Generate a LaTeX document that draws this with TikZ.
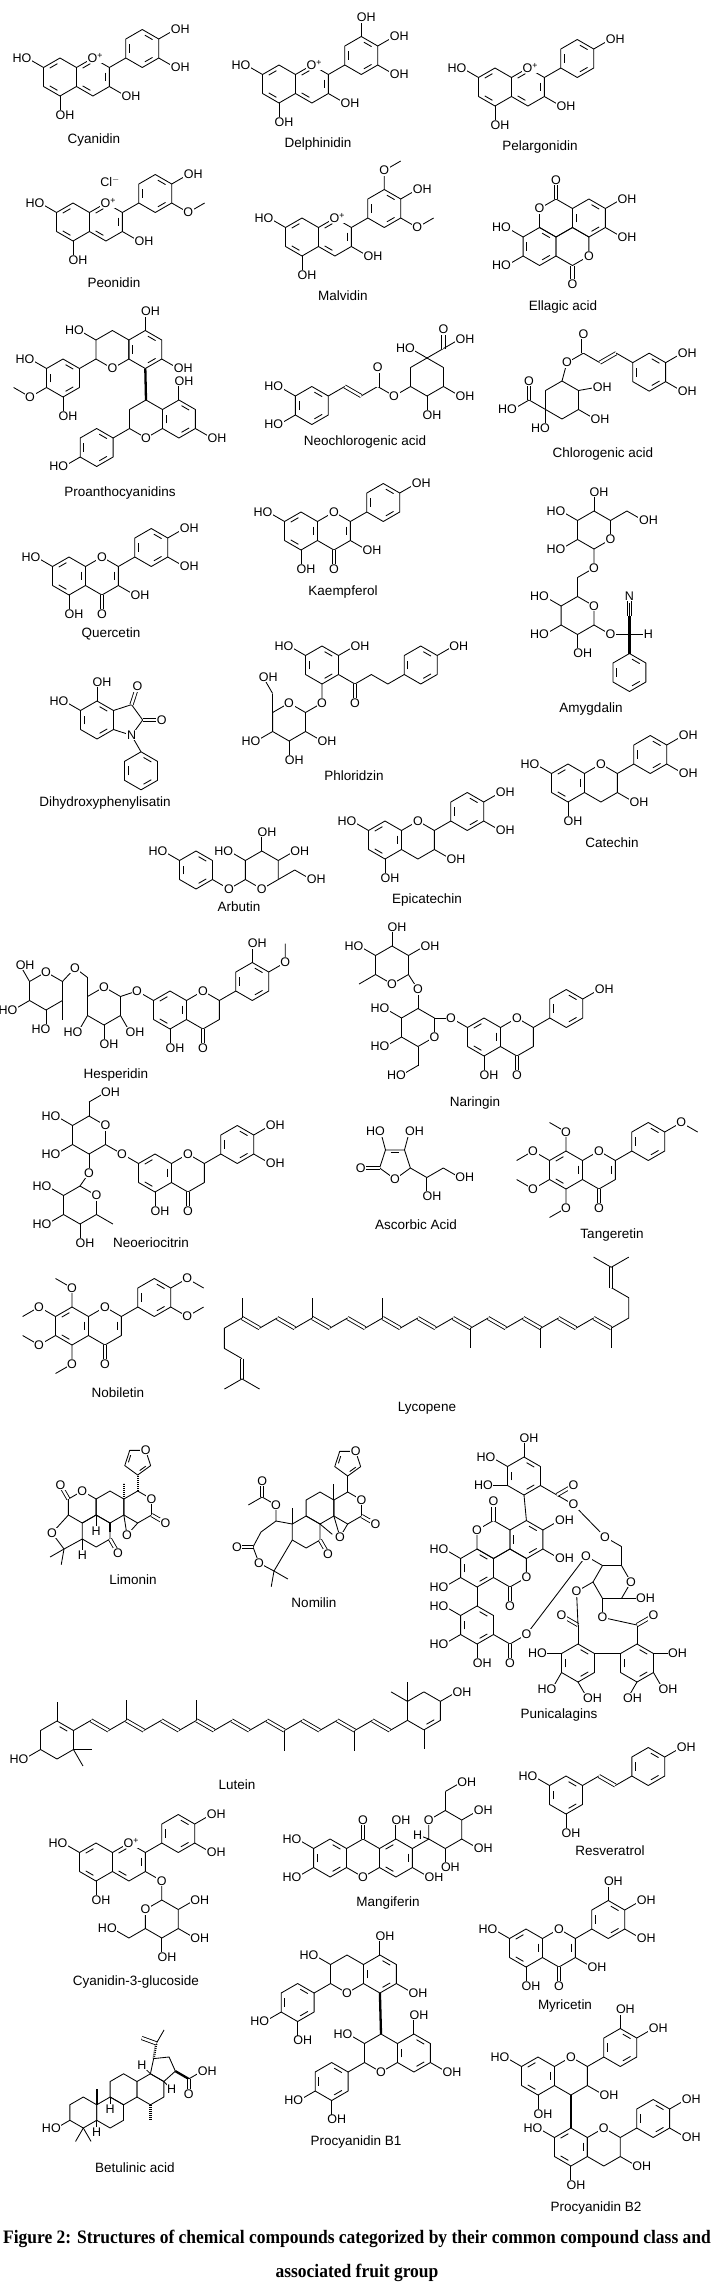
\documentclass[tikz,border=0pt]{standalone}
\usepackage{fontspec}
\setmainfont{Liberation Serif}
\setsansfont{Liberation Sans}
\usetikzlibrary{calc}

\newcounter{atm}
\def\bl{19}
% ring of six with corners #11..#16, centre #1c
\newcommand{\hexring}[3]{%
  \coordinate (#1c) at #2;
  \foreach \k in {1,...,6}
    {\coordinate (#1\k) at ($(#1c)+({#3+60*(\k-1)}:\bl)$);}
  \draw (#11)--(#12)--(#13)--(#14)--(#15)--(#16)--cycle;}
\newcommand{\pentring}[3]{%
  \coordinate (#1c) at #2;
  \foreach \k in {1,...,5}
    {\coordinate (#1\k) at ($(#1c)+({#3+72*(\k-1)}:{0.85065*\bl})$);}
  \draw (#11)--(#12)--(#13)--(#14)--(#15)--cycle;}
% inner line of a ring double bond
\newcommand{\inb}[3]{%
  \coordinate (ib1) at ($(#1#2)!.2!(#1#3)$);
  \coordinate (ib2) at ($(#1#3)!.2!(#1#2)$);
  \draw ($(ib1)!.22!(#1c)$) -- ($(ib2)!.22!(#1c)$);}
\newcommand{\sub}[4][atm]{\stepcounter{atm}%
  \draw (#2) -- ++(#3:\bl) node[#1] (a\arabic{atm}) {#4};}
\newcommand{\atomat}[3][atm]{\stepcounter{atm}\node[#1] (a\arabic{atm}) at (#2) {#3};}
\newcommand{\keto}[2]{\stepcounter{atm}\draw[dbl] (#1) -- ++(#2:\bl) node[atm] (a\arabic{atm}) {O};}
\newcommand{\ome}[3]{\stepcounter{atm}\draw (#1) -- ++(#2:\bl) node[atm] (a\arabic{atm}) {O} -- ++(#3:\bl);}
\newcommand{\me}[2]{\draw (#1) -- ++(#2:\bl);}
% flavonoid skeletons
\newcommand{\chrom}[1]{\hexring{A}{#1}{270}\hexring{C}{($(Ac)+(32.909,0)$)}{270}}
\newcommand{\ringB}{\hexring{B}{($(Ac)+(82.27,-28.5)$)}{270}%
  \inb{B}{1}{2}\inb{B}{3}{4}\inb{B}{5}{6}\draw (C2)--(B5);}
\newcommand{\antho}{\inb{A}{4}{5}\inb{A}{6}{1}\inb{C}{6}{1}\inb{C}{2}{3}\inb{C}{4}{5}%
  \atomat[atm,xshift=2.5pt]{C1}{O\textsuperscript{+}}}
\newcommand{\flavonol}{\inb{A}{2}{3}\inb{A}{4}{5}\inb{A}{6}{1}\inb{C}{2}{3}\atomat{C1}{O}\keto{C4}{90}}
\newcommand{\flavanone}{\inb{A}{2}{3}\inb{A}{4}{5}\inb{A}{6}{1}\atomat{C1}{O}\keto{C4}{90}}
\newcommand{\flavan}{\inb{A}{2}{3}\inb{A}{4}{5}\inb{A}{6}{1}\atomat{C1}{O}}
\newcommand{\arom}[1]{\inb{#1}{1}{2}\inb{#1}{3}{4}\inb{#1}{5}{6}}

\tikzset{
  atm/.style={fill=white, inner sep=0.6pt, font=\sffamily\fontsize{12.5}{13}\selectfont},
  ohl/.style={atm, anchor=west, xshift=-5.3pt},
  hol/.style={atm, anchor=east, xshift=5.3pt},
  cname/.style={font=\sffamily\fontsize{13.5}{15}\selectfont, inner sep=1pt},
  capt/.style={font=\rmfamily\bfseries\fontsize{19}{22}\selectfont, inner sep=0pt},
  dbl/.style={double, double distance=2.4pt},
  wdg/.style={line width=2.3pt},
  hsh/.style={line width=2.3pt, dash pattern=on 0.9pt off 1.1pt},
}

\begin{document}
\begin{tikzpicture}[x=1pt, y=-1pt, line width=0.85pt, line join=round]
\fill[white] (0,0) rectangle (711,2292);
\useasboundingbox (0,0) rectangle (711,2292);

% Cyanidin
\chrom{(60,77)}\antho\ringB
\sub[hol]{A6}{210}{HO}\sub[ohl]{A4}{90}{OH}\sub[ohl]{C3}{30}{OH}
\sub[ohl]{B2}{330}{OH}\sub[ohl]{B3}{30}{OH}
\node[cname] (cyanidin) at (94,140) {Cyanidin};

% Delphinidin
\chrom{(279,84)}\antho\ringB
\sub[hol]{A6}{210}{HO}\sub[ohl]{A4}{90}{OH}\sub[ohl]{C3}{30}{OH}
\sub[ohl]{B1}{270}{OH}\sub[ohl]{B2}{330}{OH}\sub[ohl]{B3}{30}{OH}
\node[cname] (delphinidin) at (318,144) {Delphinidin};

% Pelargonidin
\chrom{(495,87)}\antho\ringB
\sub[hol]{A6}{210}{HO}\sub[ohl]{A4}{90}{OH}\sub[ohl]{C3}{30}{OH}
\sub[ohl]{B2}{330}{OH}
\node[cname] (pelargonidin) at (540,147) {Pelargonidin};

% Peonidin
\chrom{(73,222)}\antho\ringB
\sub[hol]{A6}{210}{HO}\sub[ohl]{A4}{90}{OH}\sub[ohl]{C3}{30}{OH}
\sub[ohl]{B2}{330}{OH}\ome{B3}{30}{330}
\node[atm] (chloride) at (110,182) {Cl$^-$};
\node[cname] (peonidin) at (114,283) {Peonidin};

% Malvidin
\chrom{(302,237)}\antho\ringB
\sub[hol]{A6}{210}{HO}\sub[ohl]{A4}{90}{OH}\sub[ohl]{C3}{30}{OH}
\ome{B1}{270}{330}\sub[ohl]{B2}{330}{OH}\ome{B3}{30}{330}
\node[cname] (malvidin) at (343,296) {Malvidin};

% Ellagic acid
\hexring{P}{(556,218)}{270}\hexring{Q}{(588.91,218)}{270}
\hexring{R}{(539.55,246.5)}{270}\hexring{S}{(572.45,246.5)}{270}
\arom{Q}\arom{R}
\keto{P1}{270}\atomat{P6}{O}\atomat{S3}{O}\keto{S4}{90}
\sub[ohl]{Q2}{330}{OH}\sub[ohl]{Q3}{30}{OH}\sub[hol]{R6}{210}{HO}\sub[hol]{R5}{150}{HO}
\node[cname] (ellagic) at (563,307) {Ellagic acid};

% Proanthocyanidins
\hexring{A}{(145.3,349.5)}{270}\hexring{C}{(112.4,349.5)}{270}\arom{A}
\atomat{C4}{O}
\sub[ohl]{A1}{270}{OH}\sub[ohl]{A3}{30}{OH}\sub[hol]{C6}{210}{HO}
\hexring{B}{(63,378)}{270}\arom{B}\draw (C5)--(B2);
\sub[hol]{B6}{210}{HO}\ome{B5}{150}{210}\sub[ohl]{B4}{90}{OH}
\hexring{D}{(146,419)}{270}\hexring{E}{(178.91,419)}{270}\arom{E}
\draw[wdg] (A4)--(D1);
\atomat{D4}{O}
\sub[ohl]{E1}{270}{OH}\sub[ohl]{E3}{30}{OH}
\hexring{F}{(96.65,447.5)}{270}\arom{F}\draw (D5)--(F2);
\sub[hol]{F5}{150}{HO}
\node[cname] (proantho) at (120,493) {Proanthocyanidins};

% Neochlorogenic acid
\hexring{Q}{(427,377)}{270}
\draw (Q5) -- ++(150:\bl) coordinate (ncO) -- ++(210:\bl) coordinate (ncC) -- ++(150:\bl) coordinate (ncV2);
\draw[dbl] (ncV2) -- ++(210:\bl) coordinate (ncV1);
\draw (ncV1) -- ++(150:\bl) coordinate (ncK2);
\hexring{K}{($(ncK2)+(150:\bl)$)}{270}\arom{K}
\keto{ncC}{270}\atomat{ncO}{O}
\sub[hol]{K6}{210}{HO}\sub[hol]{K5}{150}{HO}
\sub[hol]{Q1}{210}{HO}
\draw (Q1) -- ++(330:\bl) coordinate (ncA);
\keto{ncA}{270}\sub[ohl]{ncA}{330}{OH}
\sub[ohl]{Q3}{30}{OH}\sub[ohl]{Q4}{90}{OH}
\node[cname] (neochlorogenic) at (365,442) {Neochlorogenic acid};

% Chlorogenic acid
\hexring{Q}{(562,400)}{270}
\draw (Q5) -- ++(210:\bl) coordinate (cgA);
\keto{cgA}{270}\sub[hol]{cgA}{150}{HO}\sub[hol]{Q5}{90}{HO}
\draw (Q1) -- ++(285:\bl) coordinate (cgO) -- ++(330:\bl) coordinate (cgC) -- ++(30:\bl) coordinate (cgV1);
\draw[dbl] (cgV1) -- ++(330:\bl) coordinate (cgV2);
\draw (cgV2) -- ++(30:\bl) coordinate (cgK6);
\hexring{K}{($(cgK6)+(30:\bl)$)}{270}\arom{K}
\keto{cgC}{270}\atomat{cgO}{O}
\sub[ohl]{K2}{330}{OH}\sub[ohl]{K3}{30}{OH}
\sub[ohl]{Q2}{350}{OH}\sub[ohl]{Q3}{30}{OH}
\node[cname] (chlorogenic) at (603,454) {Chlorogenic acid};

% Quercetin
\chrom{(69,576)}\flavonol\ringB
\sub[hol]{A6}{210}{HO}\sub[ohl]{A4}{90}{OH}\sub[ohl]{C3}{30}{OH}
\sub[ohl]{B2}{330}{OH}\sub[ohl]{B3}{30}{OH}
\node[cname] (quercetin) at (111,634) {Quercetin};

% Kaempferol
\chrom{(301,531)}\flavonol\ringB
\sub[hol]{A6}{210}{HO}\sub[ohl]{A4}{90}{OH}\sub[ohl]{C3}{30}{OH}
\sub[ohl]{B2}{330}{OH}
\node[cname] (kaempferol) at (343,592) {Kaempferol};

% Amygdalin
\hexring{G}{(594,530)}{270}
\draw (G2) -- ++(330:\bl) coordinate (amC6);
\draw (G4) -- ++(90:\bl) coordinate (amO) -- ++(150:\bl) coordinate (amCH) -- ++(90:\bl) coordinate (amL1);
\hexring{L}{($(amL1)+(90:\bl)$)}{270}
\draw (L3) -- ++(30:\bl) coordinate (amO2) -- ++(0:\bl) coordinate (amC);
\draw[wdg] (amC) -- ++(270:\bl) coordinate (amCN);
\draw[dbl] (amCN) -- ++(270:\bl) coordinate (amN);
\draw (amCN) -- ($(amCN)+(270:13)$);
\atomat{amN}{N}
\draw[wdg] (amC) -- ++(90:\bl) coordinate (amP1);
\hexring{P}{($(amP1)+(90:\bl)$)}{270}\arom{P}
\sub{amC}{0}{H}
\atomat{G3}{O}\atomat{L2}{O}\atomat{amO}{O}\atomat{amO2}{O}
\sub[ohl]{G1}{270}{OH}\sub[ohl]{amC6}{30}{OH}\sub[hol]{G6}{210}{HO}\sub[hol]{G5}{150}{HO}
\sub[hol]{L6}{210}{HO}\sub[hol]{L5}{150}{HO}\sub[ohl]{L4}{90}{OH}
\node[cname] (amygdalin) at (591,709) {Amygdalin};

% Phloridzin
\hexring{A}{(322,665)}{270}\arom{A}
\sub[hol]{A6}{210}{HO}\sub[ohl]{A2}{330}{OH}
\draw (A3) -- ++(30:\bl) coordinate (phC) -- ++(330:\bl) -- ++(30:\bl) -- ++(330:\bl) coordinate (phB5);
\keto{phC}{90}
\hexring{B}{($(phB5)+(330:\bl)$)}{270}\arom{B}
\sub[ohl]{B2}{330}{OH}
\draw (A4) -- ++(90:\bl) coordinate (phO) -- ++(150:\bl) coordinate (phG2);
\hexring{G}{($(phG2)+(150:\bl)$)}{270}
\draw (G6) -- ++(270:\bl) coordinate (phCH);
\atomat{phO}{O}\atomat{G1}{O}
\sub[ohl]{phCH}{240}{OH}\sub[ohl]{G3}{30}{OH}\sub[ohl]{G4}{90}{OH}\sub[hol]{G5}{150}{HO}
\node[cname] (phloridzin) at (354,776) {Phloridzin};

% Dihydroxyphenylisatin
\hexring{R}{(97,720)}{270}\arom{R}
\sub[ohl]{R1}{270}{OH}\sub[hol]{R6}{210}{HO}
\pentring{N}{(126.53,720)}{216}
\keto{N2}{288}\keto{N3}{0}
\draw (N4) -- ++(60:\bl) coordinate (isP1);
\hexring{P}{($(isP1)+(90:\bl)$)}{270}\arom{P}
\atomat{N4}{N}
\node[cname] (isatin) at (105,803) {Dihydroxyphenylisatin};

% Catechin
\chrom{(568,783)}\flavan\ringB
\sub[hol]{A6}{210}{HO}\sub[ohl]{A4}{90}{OH}\sub[ohl]{C3}{30}{OH}
\sub[ohl]{B2}{330}{OH}\sub[ohl]{B3}{30}{OH}
\node[cname] (catechin) at (612,843) {Catechin};

% Epicatechin
\chrom{(385,840)}\flavan\ringB
\sub[hol]{A6}{210}{HO}\sub[ohl]{A4}{90}{OH}\sub[ohl]{C3}{30}{OH}
\sub[ohl]{B2}{330}{OH}\sub[ohl]{B3}{30}{OH}
\node[cname] (epicatechin) at (427,900) {Epicatechin};

% Arbutin
\hexring{R}{(196,870)}{270}\arom{R}
\sub[hol]{R6}{210}{HO}
\draw (R3) -- ++(30:\bl) coordinate (arO) -- ++(330:\bl) coordinate (arG5);
\hexring{G}{($(arG5)+(330:\bl)$)}{270}
\draw (G3) -- ++(330:\bl) coordinate (arCH);
\atomat{arO}{O}\atomat{G4}{O}
\sub[ohl]{arCH}{30}{OH}\sub[ohl]{G2}{330}{OH}\sub[ohl]{G1}{270}{OH}\sub[hol]{G6}{210}{HO}
\node[cname] (arbutin) at (239,907) {Arbutin};

% Hesperidin
\chrom{(170,1010)}\flavanone\ringB
\sub[ohl]{A4}{90}{OH}\sub[ohl]{B1}{270}{OH}\ome{B2}{330}{270}
\draw (A6) -- ++(210:\bl) coordinate (hsO1);
\hexring{G}{(104,1006)}{270}
\draw (hsO1) -- (G2);
\draw (G6) -- ++(270:\bl) coordinate (hsCH) -- (75,968) coordinate (hsO2);
\hexring{H}{(46,991)}{270}
\draw (hsO2) -- (H2);
\atomat{hsO1}{O}\atomat{G1}{O}\atomat{hsO2}{O}\atomat{H1}{O}
\sub[ohl]{G3}{60}{OH}\sub[ohl]{G4}{90}{OH}\sub[hol]{G5}{120}{HO}
\sub[ohl]{H6}{240}{OH}\sub[hol]{H5}{150}{HO}\sub[hol]{H4}{90}{HO}\me{H3}{90}
\node[cname] (hesperidin) at (116,1075) {Hesperidin};

% Naringin
\chrom{(484,1037)}\flavanone\ringB
\sub[ohl]{A4}{90}{OH}\sub[ohl]{B2}{330}{OH}
\draw (A6) -- ++(210:\bl) coordinate (nrO1);
\hexring{G}{(418,1027.5)}{270}
\draw (nrO1) -- (G2);
\draw (G4) -- ++(90:\bl) coordinate (nrCH);
\draw (G1) -- ++(270:\bl) coordinate (nrO2);
\hexring{H}{(392,965)}{270}
\draw (nrO2) -- (H3);
\atomat{nrO1}{O}\atomat{G3}{O}\atomat{nrO2}{O}\atomat{H4}{O}
\sub[hol]{nrCH}{150}{HO}\sub[hol]{G5}{150}{HO}\sub[hol]{G6}{210}{HO}
\me{H5}{150}\sub[hol]{H6}{210}{HO}\sub[ohl]{H1}{270}{OH}\sub[ohl]{H2}{330}{OH}
\node[cname] (naringin) at (475,1103) {Naringin};

% Neoeriocitrin
\chrom{(155,1173)}\flavanone\ringB
\sub[ohl]{A4}{90}{OH}\sub[ohl]{B2}{330}{OH}\sub[ohl]{B3}{30}{OH}
\draw (A6) -- ++(210:\bl) coordinate (neO1);
\hexring{G}{(89,1135)}{270}
\draw (neO1) -- (G3);
\draw (G1) -- ++(270:14) coordinate (neCH);
\draw (G4) -- ++(90:\bl) coordinate (neO2);
\hexring{H}{(80,1205)}{270}
\draw (neO2) -- (H1);
\atomat{neO1}{O}\atomat{G2}{O}\atomat{neO2}{O}\atomat{H2}{O}
\sub[ohl]{neCH}{330}{OH}\sub[hol]{G6}{210}{HO}\sub[hol]{G5}{150}{HO}
\me{H3}{30}\sub[ohl]{H4}{90}{OH}\sub[hol]{H5}{150}{HO}\sub[hol]{H6}{210}{HO}
\node[cname] (neoeriocitrin) at (151,1243) {Neoeriocitrin};

% Ascorbic acid
\pentring{S}{(395,1163)}{90}
\inb{S}{3}{4}
\keto{S2}{180}\atomat{S1}{O}
\sub[hol]{S3}{255}{HO}\sub[ohl]{S4}{285}{OH}
\draw (S5) -- ++(30:\bl) coordinate (asC5) -- ++(330:\bl) coordinate (asC6);
\sub[ohl]{asC5}{90}{OH}\sub[ohl]{asC6}{30}{OH}
\node[cname] (ascorbic) at (416,1225) {Ascorbic Acid};

% Tangeretin
\chrom{(566,1170)}\flavonol\ringB
\ome{A1}{270}{210}\ome{A6}{210}{150}\ome{A5}{150}{210}\ome{A4}{90}{150}\ome{B2}{330}{30}
\node[cname] (tangeretin) at (612,1235) {Tangeretin};

% Nobiletin
\chrom{(72,1326)}\flavonol\ringB
\ome{A1}{270}{210}\ome{A6}{210}{150}\ome{A5}{150}{210}\ome{A4}{90}{150}
\ome{B2}{330}{30}\ome{B3}{30}{330}
\node[cname] (nobiletin) at (118,1393) {Nobiletin};

% Lycopene
\foreach \i in {0,...,21}{\pgfmathsetmacro\yy{1318+mod(\i,2)*10.15}
  \coordinate (ly\i) at ({242+\i*17.58},\yy);}
\foreach \i [evaluate=\i as \j using int(\i+1)] in {0,2,...,20}{\draw[dbl] (ly\i) -- (ly\j);}
\foreach \i [evaluate=\i as \j using int(\i+1)] in {1,3,...,19}{\draw (ly\i) -- (ly\j);}
\foreach \i in {0,4,8}{\draw (ly\i) -- ++(270:20.3);}
\foreach \i in {13,17,21}{\draw (ly\i) -- ++(90:20.3);}
\draw (ly0) -- ++(150:20.3) -- ++(90:20.3) -- ++(30:20.3) coordinate (lyL);
\draw[dbl] (lyL) -- ++(90:20.3) coordinate (lyE);
\draw (lyE) -- ++(150:20.3); \draw (lyE) -- ++(30:20.3);
\draw (ly21) -- ++(330:20.3) -- ++(270:20.3) -- ++(210:20.3) coordinate (lyR);
\draw[dbl] (lyR) -- ++(270:20.3) coordinate (lyF);
\draw (lyF) -- ++(210:20.3); \draw (lyF) -- ++(330:20.3);
\node[cname] (lycopene) at (427,1408) {Lycopene};

% Limonin
\begin{scope}
\def\bl{16}
\hexring{C}{(110,1507)}{270}\hexring{D}{(137.71,1507)}{270}
\hexring{B}{(96.14,1531)}{270}\hexring{A}{(82.28,1507)}{270}
\draw (A5) -- (52,1533) coordinate (lmO) -- (64,1549) coordinate (lmQ) -- (B5);
\me{lmQ}{150}\me{lmQ}{100}
\draw[hsh] (D1) -- ++(270:\bl) coordinate (lmF);
\pentring{F}{($(lmF)+(270:13.61)$)}{90}\inb{F}{2}{3}\inb{F}{5}{1}
\draw (D4) -- (127,1535) coordinate (lmE) -- (D5);
\draw[hsh] (C2) -- ++(270:\bl);
\draw[wdg] (C4) -- ++(90:9);
\keto{D3}{30}\keto{B3}{60}\keto{A6}{240}
\atomat{A1}{O}\atomat{D2}{O}\atomat{lmE}{O}\atomat{lmO}{O}\atomat{F4}{O}
\sub{B1}{90}{H}\sub{B5}{90}{H}
\end{scope}
\node[cname] (limonin) at (133,1580) {Limonin};

% Nomilin
\begin{scope}
\def\bl{16}
\hexring{C}{(320,1508)}{270}\hexring{D}{(347.71,1508)}{270}\hexring{B}{(306.14,1532)}{270}
\draw (B6) -- (276,1521) coordinate (nmA) -- (261,1532) coordinate (nmB) -- (253,1547) coordinate (nmK)
  -- (259,1563) coordinate (nmO) -- (274,1571) coordinate (nmQ) -- (B5);
\keto{nmK}{180}
\me{nmQ}{100}\me{nmQ}{30}
\draw (nmA) -- ++(270:\bl) coordinate (nmO2) -- ++(210:\bl) coordinate (nmC);
\keto{nmC}{270}\me{nmC}{150}
\me{B6}{270}\me{C2}{270}\me{B2}{40}
\draw (D1) -- ++(270:\bl) coordinate (nmF);
\pentring{F}{($(nmF)+(270:13.61)$)}{90}\inb{F}{2}{3}\inb{F}{5}{1}
\draw (D4) -- (340,1537) coordinate (nmE) -- (D5);
\keto{D3}{30}\keto{B3}{60}
\atomat{D2}{O}\atomat{nmE}{O}\atomat{nmO}{O}\atomat{nmO2}{O}\atomat{F4}{O}
\end{scope}
\node[cname] (nomilin) at (314,1603) {Nomilin};

% Punicalagins
\hexring{P}{(493.5,1539.5)}{270}\hexring{Q}{(526.41,1539.5)}{270}
\hexring{R}{(477.05,1568)}{270}\hexring{S}{(509.95,1568)}{270}
\arom{Q}\arom{R}
\hexring{T}{(524,1476)}{270}\arom{T}\draw (Q1) -- (T4);
\draw (T3) -- ++(30:\bl) coordinate (puC1) -- ++(30:\bl) coordinate (puO1);
\keto{puC1}{330}
\hexring{K}{(612,1582)}{240}
\draw (K2) -- ++(270:\bl) coordinate (puC6) -- ++(210:\bl) coordinate (puO6);
\draw (puO6) -- (puO1);
\draw (K1) -- ++(210:\bl) coordinate (puO4);
\draw (K6) -- ++(150:\bl) coordinate (puO3);
\draw (K5) -- ++(90:\bl) coordinate (puO2);
\sub[ohl]{K4}{0}{OH}
\draw (R4) -- ++(90:\bl) coordinate (puL1);
\hexring{L}{($(puL1)+(90:\bl)$)}{270}\arom{L}
\draw (L3) -- ++(30:\bl) coordinate (puLC) -- ++(330:\bl) coordinate (puLO);
\keto{puLC}{90}
\draw (puLO) -- (puO4);
\hexring{U}{(578,1663)}{270}\hexring{V}{(637,1663)}{270}\arom{U}\arom{V}
\draw (U2) -- (V6);
\draw (U1) -- ++(270:\bl) coordinate (puUC); \keto{puUC}{210}\draw (puUC) -- (puO3);
\draw (V1) -- ++(270:\bl) coordinate (puVC); \keto{puVC}{330}\draw (puVC) -- (puO2);
\keto{P1}{270}\keto{S4}{90}
\atomat{P6}{O}\atomat{S3}{O}\atomat{K3}{O}
\atomat{puO1}{O}\atomat{puO6}{O}\atomat{puO4}{O}\atomat{puO3}{O}\atomat{puO2}{O}\atomat{puLO}{O}
\sub[ohl]{Q2}{330}{OH}\sub[ohl]{Q3}{30}{OH}\sub[hol]{R6}{210}{HO}\sub[hol]{R5}{150}{HO}
\sub[ohl]{T1}{270}{OH}\sub[hol]{T6}{210}{HO}\sub[hol]{T5}{180}{HO}
\sub[hol]{L6}{210}{HO}\sub[hol]{L5}{150}{HO}\sub[ohl]{L4}{90}{OH}
\sub[hol]{U6}{180}{HO}\sub[hol]{U5}{120}{HO}\sub[ohl]{U4}{60}{OH}
\sub[ohl]{V4}{120}{OH}\sub[ohl]{V3}{60}{OH}\sub[ohl]{V2}{0}{OH}
\node[cname] (punicalagins) at (559,1715) {Punicalagins};

% Lutein
\hexring{W}{(57,1740)}{270}\inb{W}{1}{2}
\me{W1}{270}\me{W3}{0}\me{W3}{60}
\sub[hol]{W5}{150}{HO}
\foreach \i in {0,...,19}{\pgfmathsetmacro\yy{1730.5-mod(\i,2)*10.15}
  \coordinate (lu\i) at ({73.45+\i*17.58},\yy);}
\foreach \i [evaluate=\i as \j using int(\i+1)] in {1,3,...,17}{\draw[dbl] (lu\i) -- (lu\j);}
\foreach \i [evaluate=\i as \j using int(\i+1)] in {0,2,...,18}{\draw (lu\i) -- (lu\j);}
\foreach \i in {3,7}{\draw (lu\i) -- ++(270:20.3);}
\foreach \i in {12,16}{\draw (lu\i) -- ++(90:20.3);}
\hexring{X}{($(lu19)+(330:\bl)$)}{270}\inb{X}{3}{4}
\me{X4}{90}\me{X6}{210}\me{X6}{270}
\sub[ohl]{X2}{330}{OH}
\node[cname] (lutein) at (237,1785) {Lutein};

% Resveratrol
\hexring{A}{(566,1795)}{270}\arom{A}
\sub[hol]{A6}{210}{HO}\sub[ohl]{A4}{90}{OH}
\draw (A2) -- ++(330:\bl) coordinate (rsV1);
\draw[dbl] (rsV1) -- ++(30:\bl) coordinate (rsV2);
\draw (rsV2) -- ++(330:\bl) coordinate (rsB5);
\hexring{B}{($(rsB5)+(330:\bl)$)}{270}\arom{B}
\sub[ohl]{B2}{330}{OH}
\node[cname] (resveratrol) at (610,1851) {Resveratrol};

% Mangiferin
\hexring{M}{(363,1858)}{270}\hexring{L}{(330.09,1858)}{270}\hexring{R}{(395.91,1858)}{270}
\arom{L}\inb{R}{6}{1}\inb{R}{2}{3}\inb{R}{4}{5}
\keto{M1}{270}\atomat{M4}{O}
\sub[hol]{L6}{210}{HO}\sub[hol]{L5}{150}{HO}\sub[ohl]{R1}{270}{OH}\sub[ohl]{R3}{30}{OH}
\draw (R2) -- ++(330:\bl) coordinate (mgG5);
\hexring{G}{($(mgG5)+(330:\bl)$)}{270}
\draw (G1) -- ++(270:\bl) coordinate (mgCH);
\atomat{G6}{O}
\sub[ohl]{mgCH}{330}{OH}\sub[ohl]{G2}{330}{OH}\sub[ohl]{G3}{30}{OH}\sub[ohl]{G4}{90}{OH}
\draw (G5) -- ++(200:12) node[atm] (mgH) {H};
\node[cname] (mangiferin) at (388,1903) {Mangiferin};

% Cyanidin-3-glucoside
\chrom{(96,1862)}\antho\ringB
\sub[hol]{A6}{210}{HO}\sub[ohl]{A4}{90}{OH}\sub[ohl]{B2}{330}{OH}\sub[ohl]{B3}{30}{OH}
\draw (C3) -- ++(30:\bl) coordinate (c3O) -- ++(90:\bl) coordinate (c3G1);
\hexring{G}{($(c3G1)+(90:\bl)$)}{270}
\draw (G5) -- ++(150:\bl) coordinate (c3CH);
\atomat{c3O}{O}\atomat{G6}{O}
\sub[ohl]{G2}{330}{OH}\sub[ohl]{G3}{30}{OH}\sub[ohl]{G4}{90}{OH}\sub[hol]{c3CH}{210}{HO}
\node[cname] (cyanidinglc) at (136,1982) {Cyanidin-3-glucoside};

% Myricetin
\chrom{(526,1948)}\flavonol\ringB
\sub[hol]{A6}{210}{HO}\sub[ohl]{A4}{90}{OH}\sub[ohl]{C3}{30}{OH}
\sub[ohl]{B1}{270}{OH}\sub[ohl]{B2}{330}{OH}\sub[ohl]{B3}{30}{OH}
\node[cname] (myricetin) at (565,2006) {Myricetin};

% Procyanidin B1
\hexring{C}{(347,1974)}{270}\hexring{A}{(379.91,1974)}{270}\arom{A}
\atomat{C4}{O}\sub[ohl]{A1}{270}{OH}\sub[ohl]{A3}{30}{OH}\sub[hol]{C6}{210}{HO}
\draw (C5) -- ++(150:\bl) coordinate (p1B2);
\hexring{B}{($(p1B2)+(150:\bl)$)}{270}\arom{B}
\sub[hol]{B5}{150}{HO}\sub[ohl]{B4}{90}{OH}
\hexring{D}{(381,2053)}{270}\hexring{E}{(413.91,2053)}{270}\arom{E}
\draw[wdg] (A4) -- (D1);
\atomat{D4}{O}\sub[ohl]{E1}{270}{OH}\sub[ohl]{E3}{30}{OH}\sub[hol]{D6}{210}{HO}
\draw (D5) -- ++(150:\bl) coordinate (p1F2);
\hexring{F}{($(p1F2)+(150:\bl)$)}{270}\arom{F}
\sub[hol]{F5}{150}{HO}\sub[ohl]{F4}{90}{OH}
\node[cname] (procyanidinb1) at (356,2142) {Procyanidin B1};

% Betulinic acid
\begin{scope}
\def\bl{15.5}
\hexring{A}{(83.3,2112.5)}{270}\hexring{B}{(110.15,2112.5)}{270}
\hexring{C}{(123.57,2089.25)}{270}\hexring{D}{(150.42,2089.25)}{270}
\pentring{E}{($(D1)!.5!(D2)+(300:10.67)$)}{84}
\draw[wdg] (A2) -- ++(270:\bl);
\draw[hsh] (D4) -- ++(90:\bl);
\me{A4}{120}\me{A4}{60}
\sub[hol]{A5}{150}{HO}
\draw (A3) -- ++(90:12) node[atm] (btH1) {H};
\draw (B1) -- ++(90:12) node[atm] (btH2) {H};
\draw (D1) -- ++(225:12) node[atm] (btH3) {H};
\draw (D2) -- ++(45:11) node[atm] (btH4) {H};
\draw[hsh] (E3) -- ++(280:\bl) coordinate (btI);
\me{btI}{300}\draw[dbl] (btI) -- ++(200:\bl);
\draw[wdg] (E5) -- ++(30:\bl) coordinate (btC);
\keto{btC}{90}\sub[ohl]{btC}{330}{OH}
\end{scope}
\node[cname] (betulinic) at (135,2168) {Betulinic acid};

% Procyanidin B2
\chrom{(538,2076)}\flavan\ringB
\sub[hol]{A6}{210}{HO}\sub[ohl]{A4}{90}{OH}\sub[ohl]{C3}{30}{OH}
\sub[ohl]{B1}{270}{OH}\sub[ohl]{B2}{330}{OH}
\draw[wdg] (C4) -- ++(90:33) coordinate (b2A1);
\chrom{($(b2A1)+(0,19)$)}\flavan\ringB
\sub[hol]{A6}{210}{HO}\sub[ohl]{A4}{90}{OH}\sub[ohl]{C3}{30}{OH}
\sub[ohl]{B2}{330}{OH}\sub[ohl]{B3}{30}{OH}
\node[cname] (procyanidinb2) at (596,2208) {Procyanidin B2};

% caption
\node[capt] (cap1) at (357,2239) {\scalebox{0.92}[1]{Figure 2: Structures of chemical compounds categorized by their common compound class and}};
\node[capt] (cap2) at (357,2273) {\scalebox{0.92}[1]{associated fruit group}};
\end{tikzpicture}
\end{document}
